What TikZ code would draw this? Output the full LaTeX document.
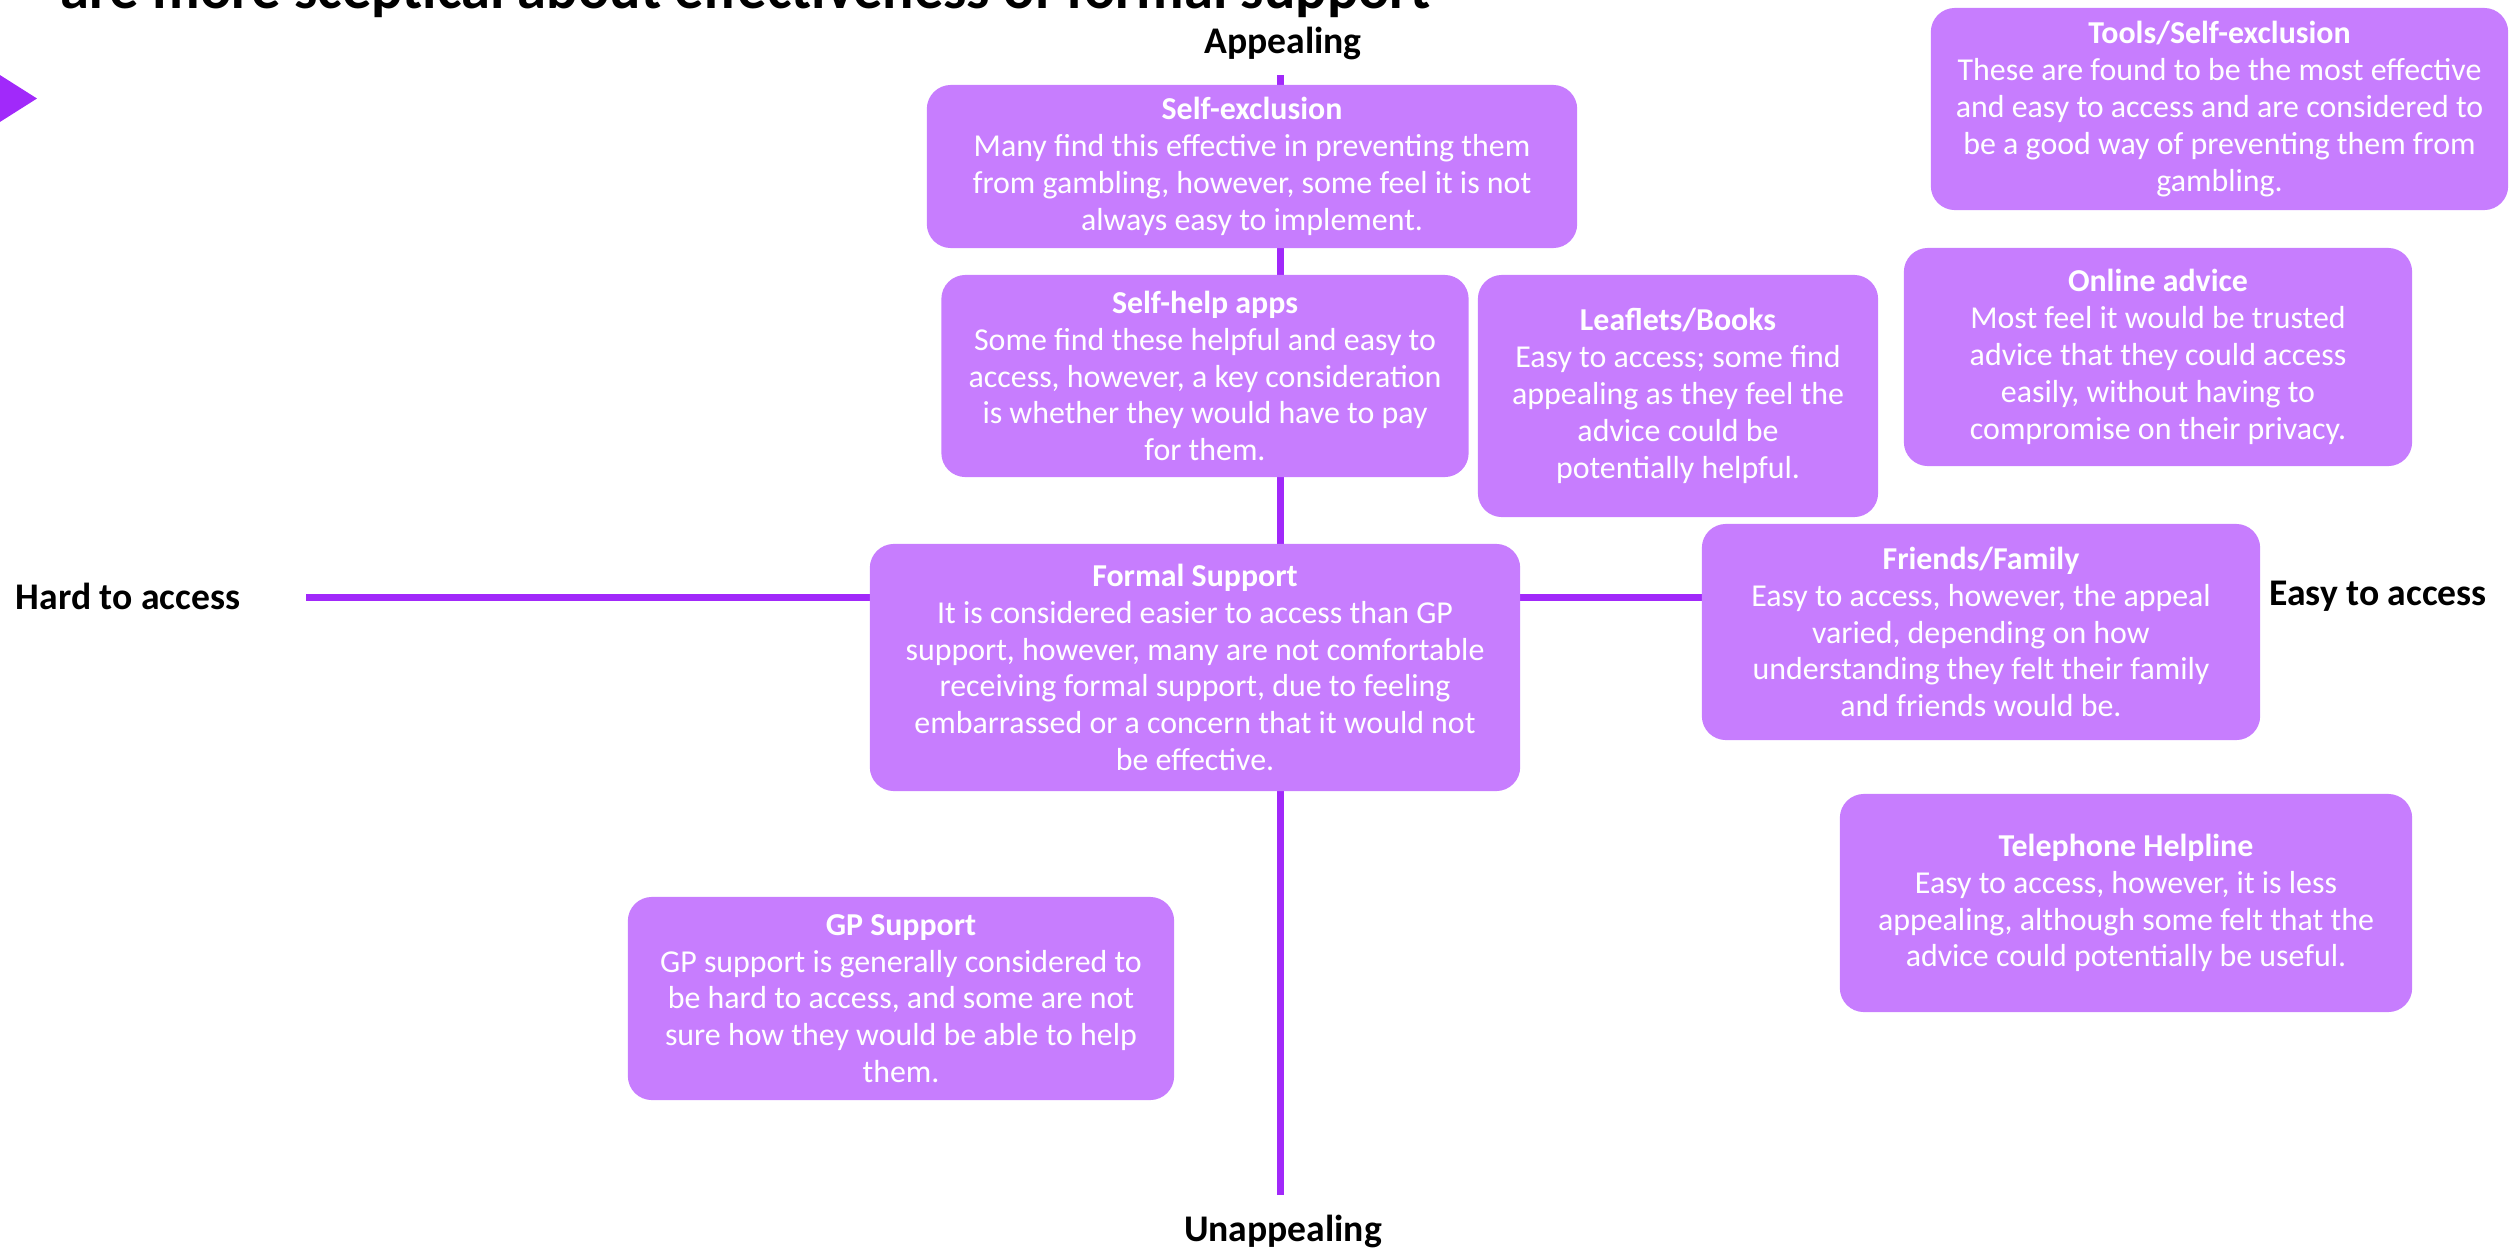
\documentclass[tikz,border=0pt]{standalone}
\usepackage{fontspec}
\setmainfont{Carlito}
\usepackage{tikz}
\usetikzlibrary{positioning}

\definecolor{axispurple}{RGB}{161,41,250}
\definecolor{boxpurple}{RGB}{199,125,254}

\tikzset{
  card/.style={fill=boxpurple,
    rounded corners=0.24cm, text=white, align=center, inner sep=0pt,
    font=\fontsize{9.07}{10.47}\selectfont},
  axislabel/.style={font=\fontsize{10.7}{12}\selectfont\bfseries},
  axisline/.style={draw=axispurple, line width=0.07cm}
}

\begin{document}
\begin{tikzpicture}[x=0.01cm, y=-0.01cm]
\useasboundingbox (0,0) rectangle (2511,1248);
\begin{scope}
\clip (0,0) rectangle (2511,1248);

%% heading (cut at the top) and marker
\node[anchor=base west, inner sep=0pt, font=\fontsize{16.65}{19}\selectfont\bfseries](heading) at (60,8) {are more sceptical about effectiveness of formal support};
\fill[axispurple] (-8,70) -- (37,98.5) -- (-8,127) -- cycle;

%% axes
\coordinate (ytop) at (1280,75);
\coordinate (ybot) at (1280,1195);
\coordinate (xleft) at (306,597);
\coordinate (xright) at (1750,597);

\draw[axisline] (ytop) -- (ybot);
\draw[axisline] (xleft) -- (xright);

\node[axislabel](appeal) at (1283,43) {Appealing};
\node[axislabel](unappeal) at (1283,1231) {Unappealing};
\node[axislabel](hard) at (128,596) {Hard to access};
\node[axislabel](easy) at (2378,596) {Easy to access};

%% support options
\node[card, minimum width=6.50cm, minimum height=1.63cm](selfexcl) at (1252,166.5) {
\textbf{Self-exclusion}\\
Many find this effective in preventing them\\
from gambling, however, some feel it is not\\
always easy to implement.};

\node[card, minimum width=5.27cm, minimum height=2.02cm](selfhelp) at (1205,376) {
\textbf{Self-help apps}\\
Some find these helpful and easy to\\
access, however, a key consideration\\
is whether they would have to pay\\
for them.};

\node[card, minimum width=4.00cm, minimum height=2.42cm](leaflets) at (1678,396) {
\textbf{Leaflets/Books}\\
Easy to access; some find\\
appealing as they feel the\\
advice could be\\
potentially helpful.};

\node[card, minimum width=5.77cm, minimum height=2.02cm](tools) at (2219.5,109) {
\textbf{Tools/Self-exclusion}\\
These are found to be the most effective\\
and easy to access and are considered to\\
be a good way of preventing them from\\
gambling.};

\node[card, minimum width=5.08cm, minimum height=2.18cm](online) at (2158,357) {
\textbf{Online advice}\\
Most feel it would be trusted\\
advice that they could access\\
easily, without having to\\
compromise on their privacy.};

\node[card, minimum width=6.50cm, minimum height=2.47cm](formal) at (1195,667.5) {
\textbf{Formal Support}\\
It is considered easier to access than GP\\
support, however, many are not comfortable\\
receiving formal support, due to feeling\\
embarrassed or a concern that it would not\\
be effective.};

\node[card, minimum width=5.58cm, minimum height=2.16cm](friends) at (1981,632) {
\textbf{Friends/Family}\\
Easy to access, however, the appeal\\
varied, depending on how\\
understanding they felt their family\\
and friends would be.};

\node[card, minimum width=5.72cm, minimum height=2.18cm](phone) at (2126,903) {
\textbf{Telephone Helpline}\\
Easy to access, however, it is less\\
appealing, although some felt that the\\
advice could potentially be useful.};

\node[card, minimum width=5.46cm, minimum height=2.03cm](gp) at (901,998.5) {
\textbf{GP Support}\\
GP support is generally considered to\\
be hard to access, and some are not\\
sure how they would be able to help\\
them.};
\end{scope}
\end{tikzpicture}
\end{document}
